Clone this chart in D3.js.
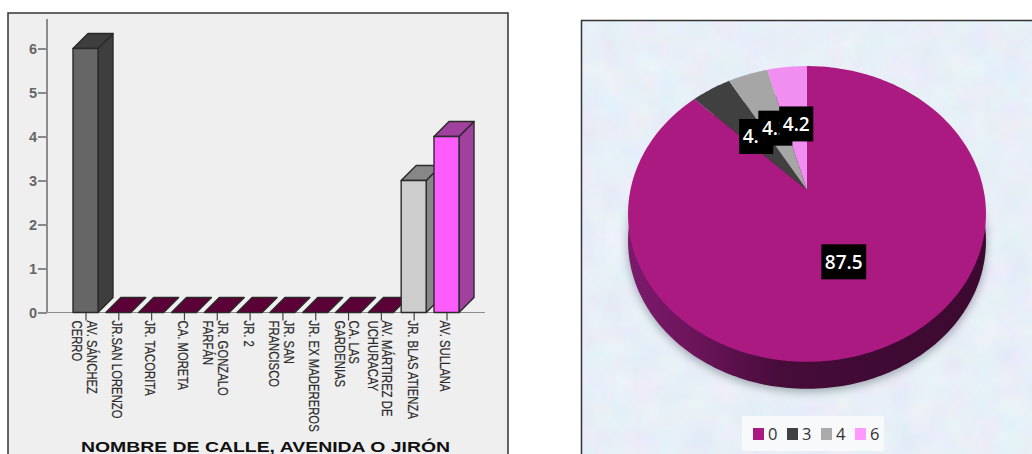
<!DOCTYPE html>
<html>
<head>
<meta charset="utf-8">
<script src="https://cdn.jsdelivr.net/npm/d3@7"></script>
<style>
  html, body { margin: 0; padding: 0; background: #fff; overflow: hidden; }
  svg { display: block; }
</style>
</head>
<body>
<svg id="c" width="1032" height="454"></svg>
<script>
// Street counts, one entry per street; each label is split into its printed lines
const streetLabels = [
  ["AV. SÁNCHEZ", "CERRO"], ["JR.SAN LORENZO"], ["JR. TACORITA"], ["CA. MORETA"],
  ["JR. GONZALO", "FARFÁN"], ["JR. 2"], ["JR. SAN", "FRANCISCO"], ["JR. EX MADEREROS"],
  ["CA. LAS", "GARDENIAS"], ["AV. MÁRTIREZ DE", "UCHURACAY"], ["JR. BLAS ATIENZA"], ["AV. SULLANA"]
];
const streetCounts = [6, 0, 0, 0, 0, 0, 0, 0, 0, 0, 3, 4];
const yTicks = [0, 1, 2, 3, 4, 5, 6];
const axisTitle = "NOMBRE DE CALLE, AVENIDA O JIRÓN";

// Share of streets by count
const pieKeys = ["0", "3", "4", "6"];
const pieShares = [87.5, 4.2, 4.2, 4.2];
const pieColors = ["#ab1a80", "#404040", "#a6a6a6", "#f08ff0"];
const legendColors = ["#ab1a80", "#404040", "#aaaaaa", "#ff99ff"];

const svg = d3.select("#c");
const defs = svg.append("defs");

/* ---------- bar panel ---------- */
const barPanel = svg.append("g");
barPanel.append("rect").attr("x", 8).attr("y", 13).attr("width", 500).attr("height", 460)
  .attr("fill", "#efefef").attr("stroke", "#333").attr("stroke-width", 1.5);

const y = d3.scaleLinear().domain([0, 6]).range([312.5, 48.5]);
const x = d3.scalePoint().domain(d3.range(streetLabels.length)).range([85.5, 446.5]);
const barWidth = 25, depth = 15;

function barStyle(i, v) {
  if (v === 0) return { front: "#5c0038", side: "#5c0038", top: "#5c0038" };
  if (v === 6) return { front: "#666666", side: "#3e3e3e", top: "#3e3e3e" };
  if (v === 3) return { front: "#cdcdcd", side: "#878787", top: "#878787" };
  return { front: "#ff5cff", side: "#a0409f", top: "#a0409f" };
}

// Left axis
const yAxis = barPanel.append("g").attr("transform", "translate(47,0)")
  .call(d3.axisLeft(y).tickValues(yTicks).tickSize(9).tickPadding(1).tickFormat(d3.format("d")));
yAxis.select(".domain").remove();
yAxis.selectAll("line").attr("stroke", "#444").attr("stroke-width", 1.2);
yAxis.selectAll("text").attr("font-family", "Liberation Sans").attr("font-size", 14.5)
  .attr("font-weight", 700).attr("fill", "#666");
barPanel.append("line").attr("x1", 47).attr("x2", 47).attr("y1", 19).attr("y2", y(0))
  .attr("stroke", "#8c8c8c").attr("stroke-width", 2);
barPanel.append("line").attr("x1", 47).attr("x2", 485).attr("y1", y(0)).attr("y2", y(0))
  .attr("stroke", "#8c8c8c").attr("stroke-width", 1.2);

// Bottom ticks, with wrapped labels rotated a quarter turn and set condensed
const xAxis = barPanel.append("g").attr("transform", `translate(0,${y(0)})`)
  .call(d3.axisBottom(x).tickSize(8).tickFormat(""));
xAxis.select(".domain").remove();
xAxis.selectAll("line").attr("stroke", "#444").attr("stroke-width", 1.2);

const labelGroups = barPanel.selectAll("g.street").data(streetLabels).join("g")
  .attr("class", "street")
  .attr("transform", (d, i) => `translate(${x(i) - 1},320.5) rotate(90) scale(0.78,1)`);
labelGroups.selectAll("text").data(d => d.map((t, k) => ({ t, k, n: d.length }))).join("text")
  .attr("x", 0)
  .attr("y", d => (d.k - (d.n - 1) / 2) * 14.7 + 5)
  .attr("font-family", "Liberation Sans")
  .attr("font-size", 14.5)
  .attr("fill", "#2a2a2a")
  .attr("stroke", "#2a2a2a")
  .attr("stroke-width", 0.2)
  .text(d => d.t);

// Extruded bars, left to right so later bars overlap earlier ones
const bars = barPanel.selectAll("g.bar").data(streetCounts).join("g").attr("class", "bar");
bars.each(function (v, i) {
  const g = d3.select(this), s = barStyle(i, v);
  const x0 = x(i) - barWidth / 2, x1 = x(i) + barWidth / 2, yt = y(v), yb = y(0);
  const edge = { stroke: "#2a2a2a", "stroke-width": 1.4, "stroke-linejoin": "round" };
  const poly = (pts, fill) => {
    const p = g.append("path").attr("d", d3.line()(pts) + "Z").attr("fill", fill);
    Object.entries(edge).forEach(([k, val]) => p.attr(k, val));
  };
  if (v > 0) {
    poly([[x1, yb], [x1 + depth, yb - depth], [x1 + depth, yt - depth], [x1, yt]], s.side);
    poly([[x0, yt], [x0 + depth, yt - depth], [x1 + depth, yt - depth], [x1, yt]], s.top);
    poly([[x0, yb], [x0, yt], [x1, yt], [x1, yb]], s.front);
  } else {
    poly([[x0, yb], [x0 + depth, yb - depth], [x1 + depth, yb - depth], [x1, yb]], s.top);
  }
});

barPanel.append("text").attr("x", 81).attr("y", 452)
  .attr("textLength", 369).attr("lengthAdjust", "spacingAndGlyphs")
  .attr("font-family", "Liberation Sans").attr("font-weight", 700).attr("font-size", 15.5)
  .attr("fill", "#111").text(axisTitle);

/* ---------- pie panel ---------- */
const mottled = defs.append("filter").attr("id", "mottle")
  .attr("color-interpolation-filters", "sRGB")
  .attr("x", 0).attr("y", 0).attr("width", "100%").attr("height", "100%");
mottled.append("feTurbulence").attr("type", "fractalNoise").attr("baseFrequency", 0.035)
  .attr("numOctaves", 3).attr("seed", 7);
mottled.append("feColorMatrix").attr("type", "matrix")
  .attr("values", "0.08 0 0 0 0.87  0 0.06 0 0 0.907  0 0 0.04 0 0.95  0 0 0 0 1");

const wallFill = defs.append("linearGradient").attr("id", "wall")
  .attr("x1", 0).attr("x2", 1).attr("y1", 0).attr("y2", 0);
[[0, "#7c1a6c"], [0.2, "#6a1459"], [0.42, "#470c3a"], [0.7, "#3f0a33"], [1, "#3c0930"]]
  .forEach(([o, c]) => wallFill.append("stop").attr("offset", o).attr("stop-color", c));

const soft = defs.append("filter").attr("id", "soft")
  .attr("x", "-10%").attr("y", "-10%").attr("width", "120%").attr("height", "120%");
soft.append("feGaussianBlur").attr("stdDeviation", 5);

const piePanel = svg.append("g");
piePanel.append("rect").attr("x", 581).attr("y", 20).attr("width", 460).attr("height", 440)
  .attr("fill", "#e9f0f8").attr("filter", "url(#mottle)");
piePanel.append("path").attr("d", "M581.5,454V20.5H1032").attr("fill", "none")
  .attr("stroke", "#333").attr("stroke-width", 1.5);

// Disc seen in perspective: far side compressed, near side enlarged
const hub = { x: 807, y: 190 }, spreadX = 176.6, spreadY = 144, persp = 0.162, wallDepth = 27;
function project(angle, r) {
  const u = Math.sin(angle) * r, v = Math.cos(angle) * r, w = 1 + persp * v;
  return [hub.x + spreadX * u / w, hub.y - spreadY * v / w];
}
function arcSamples(a0, a1) {
  const n = Math.max(2, Math.ceil((a1 - a0) / 0.02));
  return d3.range(n + 1).map(k => project(a0 + (a1 - a0) * k / n, 1));
}
const outline = arcSamples(0, 2 * Math.PI);
const line = d3.line();

piePanel.append("path").attr("d", line(outline.map(([a, b]) => [a, b + wallDepth + 3])) + "Z")
  .attr("fill", "#5d6a72").attr("opacity", 0.55).attr("filter", "url(#soft)");
piePanel.append("path")
  .attr("d", line(outline.map(([a, b]) => [a, b + wallDepth])) + "Z")
  .attr("fill", "url(#wall)");

const slices = d3.pie().sort(null).value(d => d)(pieShares);
piePanel.selectAll("path.slice").data(slices).join("path")
  .attr("class", "slice")
  .attr("fill", (d, i) => pieColors[i])
  .attr("d", d => line([[hub.x, hub.y], ...arcSamples(d.startAngle, d.endAngle)]) + "Z");

// Value boxes sit halfway along each slice's middle ray
const valueGroups = piePanel.selectAll("g.value").data(slices).join("g").attr("class", "value")
  .attr("transform", d => `translate(${project((d.startAngle + d.endAngle) / 2, 0.5)})`);
valueGroups.append("rect").attr("fill", "#000");
valueGroups.append("text").attr("text-anchor", "middle").attr("dy", "0.36em")
  .attr("font-family", "Open Sans").attr("font-weight", 600).attr("font-size", 19)
  .attr("fill", "#fff").text(d => d.value);
valueGroups.each(function () {
  const g = d3.select(this), w = g.select("text").node().getBBox().width;
  g.select("rect").attr("x", -w / 2 - 3.5).attr("width", w + 7).attr("y", -17.5).attr("height", 35);
});

// Legend
const legend = piePanel.append("g");
legend.append("rect").attr("x", 742).attr("y", 416).attr("width", 142).attr("height", 35)
  .attr("fill", "#f7f9fb");
const legendX = d3.scalePoint().domain(pieKeys).range([753, 855]);
const items = legend.selectAll("g.item").data(pieKeys).join("g").attr("class", "item")
  .attr("transform", k => `translate(${legendX(k)},428)`);
items.append("rect").attr("width", 11).attr("height", 12).attr("fill", (k, i) => legendColors[i]);
items.append("text").attr("x", 15).attr("y", 11.5).attr("font-family", "Open Sans")
  .attr("font-size", 16.5).attr("fill", "#333").text(k => k);
</script>
</body>
</html>
